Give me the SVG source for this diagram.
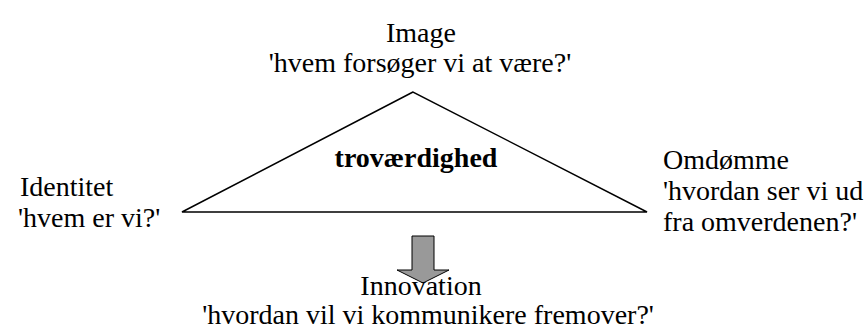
<svg xmlns="http://www.w3.org/2000/svg" width="868" height="331" viewBox="0 0 868 331">
<style>
text{font-family:"Liberation Serif",serif;font-size:28px;fill:#000}
.c{text-anchor:middle}
.b{font-weight:bold}
</style>
<rect width="868" height="331" fill="#fff"/>
<g id="triangle">
<polygon points="413,92 182,212 647,212" fill="#fff" stroke="#000" stroke-width="1.5"/>
<text class="c b" x="416" y="167">troværdighed</text>
</g>
<g id="image">
<text class="c" x="421" y="42">Image</text>
<text class="c" x="420" y="72">'hvem forsøger vi at være?'</text>
</g>
<g id="identitet">
<text x="20" y="196">Identitet</text>
<text x="18" y="227">'hvem er vi?'</text>
</g>
<g id="omdomme">
<text x="663" y="169">Omdømme</text>
<text x="663" y="200">'hvordan ser vi ud</text>
<text x="663" y="231">fra omverdenen?'</text>
</g>
<g id="connectors">
<polygon points="412,236 434,236 434,270 449,270 423,283 397,270 412,270" fill="#999" stroke="#000" stroke-width="1"/>
</g>
<g id="innovation">
<text class="c" x="421" y="295">Innovation</text>
<text class="c" x="428" y="324">'hvordan vil vi kommunikere fremover?'</text>
</g>
</svg>
